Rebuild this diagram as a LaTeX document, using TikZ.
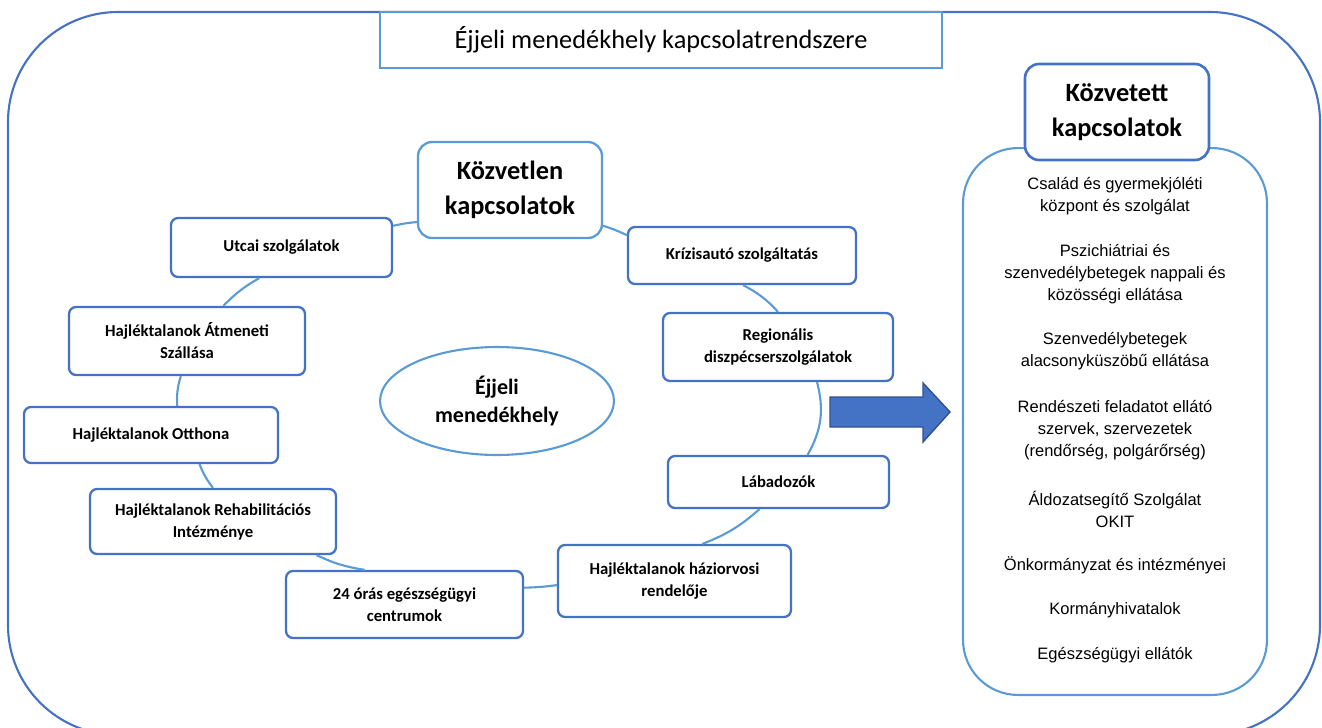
\documentclass[tikz,border=0pt]{standalone}
\usepackage{fontspec}
\setmainfont{Carlito}
\newfontfamily\listfont{Liberation Sans}
\usetikzlibrary{shapes.geometric}
\definecolor{frameblue}{HTML}{4472C4}
\definecolor{lineblue}{HTML}{5B9BD5}
\definecolor{arrowedge}{HTML}{2F528F}
\tikzset{
  box/.style={draw=frameblue,fill=white,line width=1.3pt,rounded corners=4pt,align=center,inner sep=2pt,
    font=\fontsize{9.5}{12.5}\selectfont\bfseries},
  headbox/.style={box,rounded corners=8pt,minimum width=3.68cm,minimum height=1.92cm,
    font=\fontsize{15}{20}\selectfont\bfseries},
  link/.style={draw=lineblue,line width=1.2pt},
  item/.style={align=center,font=\listfont\fontsize{9.4}{12.5}\selectfont}}

\begin{document}
\begin{tikzpicture}[x=0.02cm,y=0.02cm]
\useasboundingbox (0,0) rectangle (1322,-727);
\clip (0,0) rectangle (1322,-727);

\draw[frameblue,line width=1.2pt,rounded corners=2.2cm] (8,-12) rectangle (1320,-735);
\node[draw=lineblue,fill=white,line width=1.2pt,minimum width=11.24cm,minimum height=1.12cm,
  font=\fontsize{15}{17}\selectfont] (title) at (661,-40) {Éjjeli menedékhely kapcsolatrendszere};

% right panel
\node[draw=lineblue,line width=1.2pt,rounded corners=1.1cm,minimum width=6.08cm,minimum height=10.94cm] (panel) at (1115,-421.5) {};
\node[headbox,line width=1.5pt,yshift=-0.04cm] (kozvetett) at (1117,-110) {Közvetett\\kapcsolatok};
\node[item] (csalad) at (1115,-196) {Család és gyermekjóléti\\központ és szolgálat};
\node[item] (pszich) at (1115,-274.5) {Pszichiátriai és\\szenvedélybetegek nappali és\\közösségi ellátása};
\node[item] (szenv) at (1115,-351) {Szenvedélybetegek\\alacsonyküszöbű ellátása};
\node[item] (rendesz) at (1115,-430) {Rendészeti feladatot ellátó\\szervek, szervezetek\\(rendőrség, polgárőrség)};
\node[item] (aldozat) at (1115,-509) {Áldozatsegítő Szolgálat\\OKIT};
\node[item] (onkorm) at (1115,-565) {Önkormányzat és intézményei};
\node[item] (korm) at (1115,-610) {Kormányhivatalok};
\node[item] (egesz) at (1115,-655) {Egészségügyi ellátók};

\draw[arrowedge,fill=frameblue,line width=.8pt] (830,-397) -- (923,-397) -- (923,-383) -- (950,-412)
  -- (923,-442) -- (923,-427) -- (830,-427) -- cycle;

% direct contacts
\node[headbox,draw=lineblue] (kozvetlen) at (510,-190) {Közvetlen\\kapcsolatok};
\node[draw=lineblue,line width=1.2pt,ellipse,fill=white,minimum width=4.68cm,minimum height=2.16cm,align=center,
  font=\fontsize{12.5}{16.5}\selectfont\bfseries] (menedek) at (497,-401) {Éjjeli\\menedékhely};
\node[box,minimum width=4.42cm,minimum height=1.18cm] (utcai) at (281.5,-247.5) {Utcai szolgálatok};
\node[box,minimum width=4.56cm,minimum height=1.14cm] (krizis) at (742,-255.5) {Krízisautó szolgáltatás};
\node[box,minimum width=4.72cm,minimum height=1.36cm] (atmeneti) at (187,-341) {Hajléktalanok Átmeneti\\Szállása};
\node[box,minimum width=4.6cm,minimum height=1.36cm] (regionalis) at (778,-347) {Regionális\\diszpécserszolgálatok};
\node[box,minimum width=5.08cm,minimum height=1.12cm] (otthona) at (151,-435) {Hajléktalanok Otthona};
\node[box,minimum width=4.42cm,minimum height=1.04cm] (labadozok) at (778.5,-482) {Lábadozók};
\node[box,minimum width=4.92cm,minimum height=1.3cm] (rehab) at (213,-521.5) {Hajléktalanok Rehabilitációs\\Intézménye};
\node[box,minimum width=4.74cm,minimum height=1.34cm] (centrum) at (404.5,-604.5) {24 órás egészségügyi\\centrumok};
\node[box,minimum width=4.66cm,minimum height=1.44cm] (haziorvos) at (674.5,-581) {Hajléktalanok háziorvosi\\rendelője};

\draw[link] (utcai.11) to[bend left=4] (kozvetlen.199);
\draw[link] (kozvetlen.-21) to[bend left=4] (krizis.170);
\draw[link] (krizis.-88) to[bend left=10] (regionalis.90);
\draw[link] (regionalis.-42) to[bend left=22] (labadozok.43);
\draw[link] (labadozok.-125) to[bend left=10] (haziorvos.53);
\draw[link] (haziorvos.182) to[bend left=3] (centrum.8);
\draw[link] (centrum.139) to[bend left=8] (rehab.-18);
\draw[link] (rehab.90) to[bend left=8] (otthona.-31);
\draw[link] (otthona.48) to[bend left=10] (atmeneti.-100);
\draw[link] (atmeneti.44) to[bend left=8] (utcai.-126);
\end{tikzpicture}
\end{document}
